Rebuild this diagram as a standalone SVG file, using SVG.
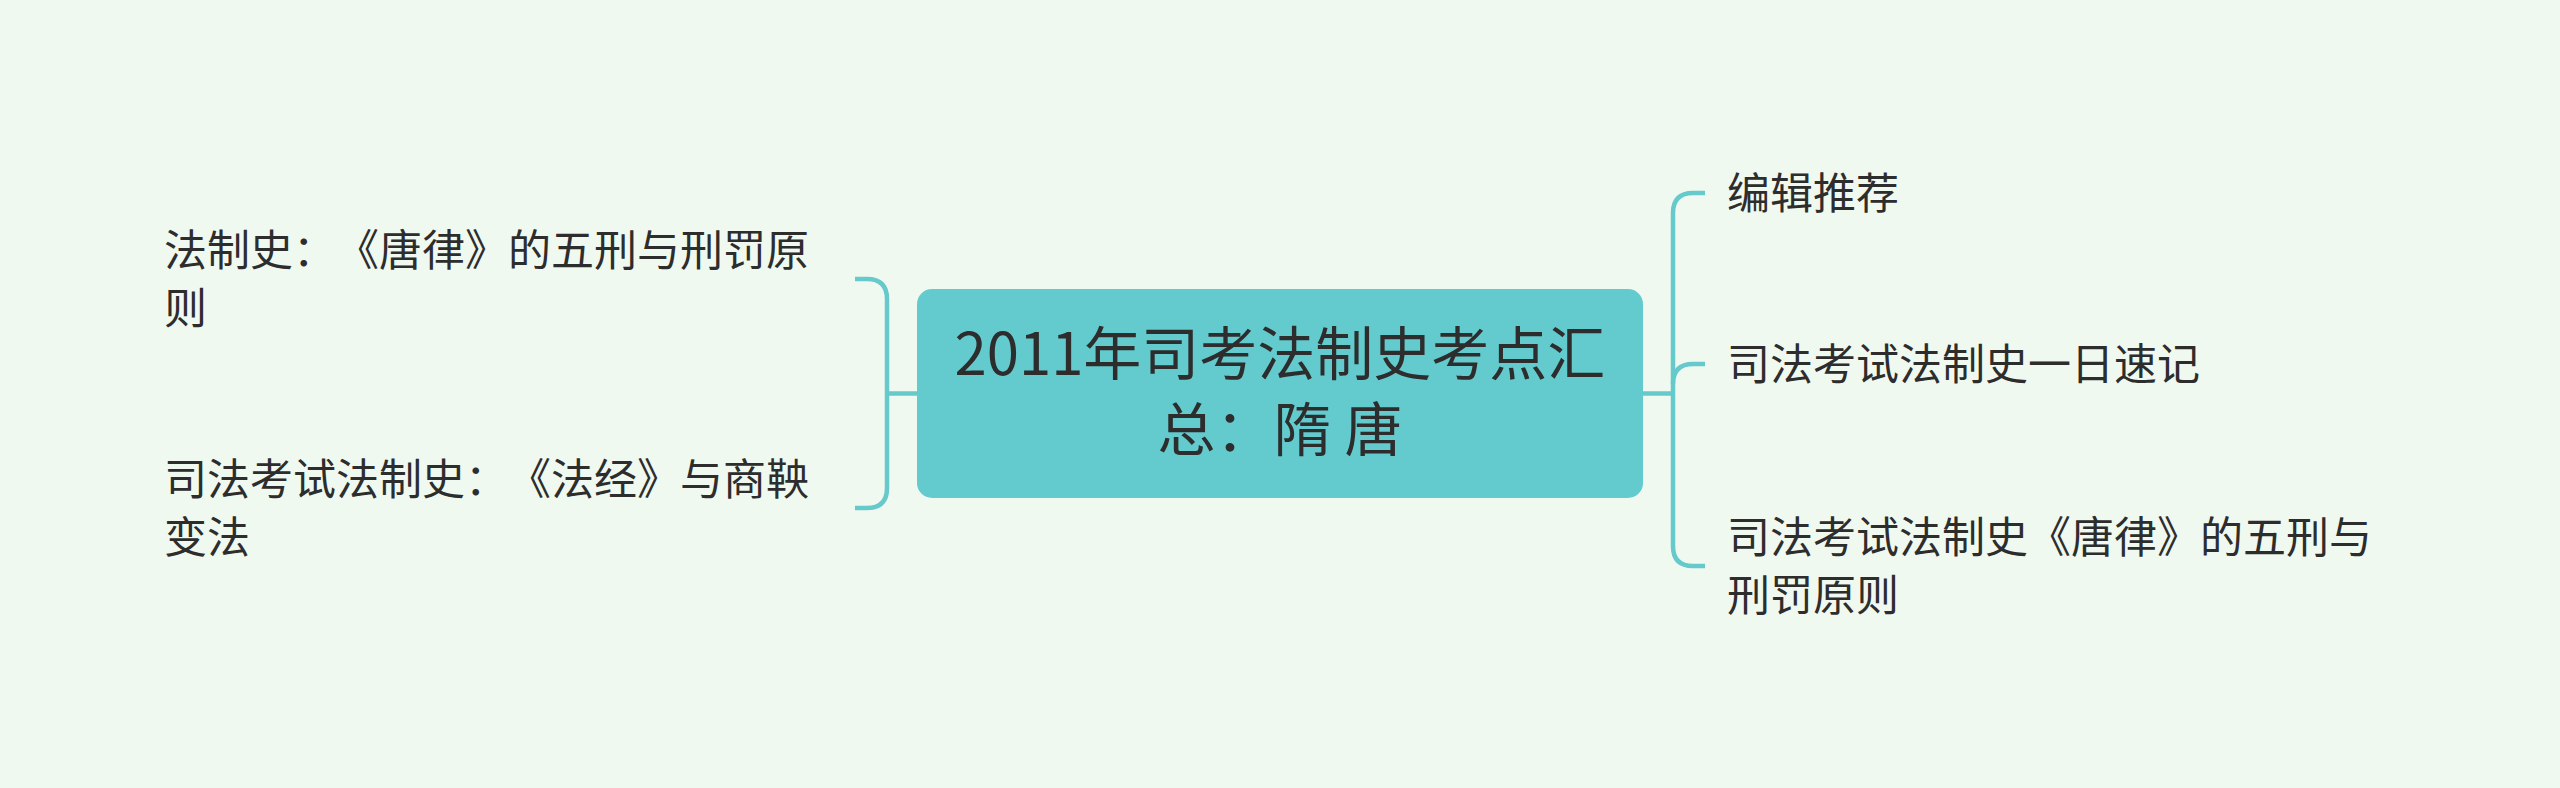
<svg xmlns="http://www.w3.org/2000/svg" width="2560" height="788" viewBox="0 0 2560 788">
<style>
.bg{fill:#F0F9F0}
.root{fill:#63CBCE}
.c{fill:none;stroke:#66C9CC;stroke-width:4.5;stroke-linecap:butt}
.t{font-family:"Noto Sans CJK SC","Noto Sans",sans-serif;fill:#2D2D2D;text-spacing-trim:space-all;font-kerning:none}
.tr{font-size:58px}
.tn{font-size:43px}
</style>
<rect class="bg" x="0" y="0" width="2560" height="788"/>
<g id="connectors">
<path class="c" d="M855 279 H867 Q887 279 887 299 V488 Q887 508 867 508 H855"/>
<path class="c" d="M887 393.5 H918"/>
<path class="c" d="M1642 393.5 H1673"/>
<path class="c" d="M1705 193 H1693 Q1673 193 1673 213 V546 Q1673 566 1693 566 H1705"/>
<path class="c" d="M1705 364 H1693 Q1673 364 1673 384"/>
</g>
<g id="root">
<rect class="root" x="917" y="289" width="726" height="209" rx="15" ry="15"/>
<text class="t tr" x="1280" y="375" text-anchor="middle">2011年司考法制史考点汇</text>
<text class="t tr" x="1280" y="451" text-anchor="middle">总：隋 唐</text>
</g>
<g id="left1">
<text class="t tn" x="164" y="266">法制史：《唐律》的五刑与刑罚原</text>
<text class="t tn" x="164" y="324">则</text>
</g>
<g id="left2">
<text class="t tn" x="164" y="495">司法考试法制史：《法经》与商鞅</text>
<text class="t tn" x="164" y="553">变法</text>
</g>
<g id="right1">
<text class="t tn" x="1727" y="209">编辑推荐</text>
</g>
<g id="right2">
<text class="t tn" x="1727" y="380">司法考试法制史一日速记</text>
</g>
<g id="right3">
<text class="t tn" x="1727" y="553">司法考试法制史《唐律》的五刑与</text>
<text class="t tn" x="1727" y="611">刑罚原则</text>
</g>
</svg>
